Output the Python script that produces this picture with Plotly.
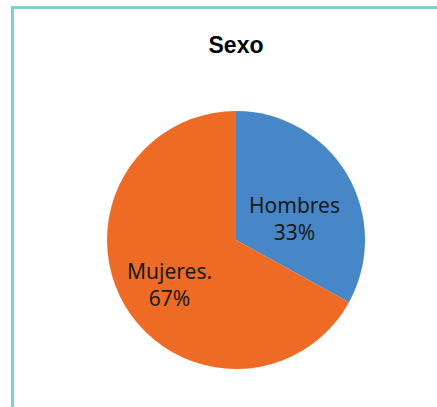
import plotly.graph_objects as go

labels = ["Hombres", "Mujeres."]
values = [33, 67]
colors = ["#4787c7", "#ee6b25"]

W, H = 437, 407
cx, cy, r = 236, 240, 129

total = sum(values)
label_text = [f"{lab}<br>{round(100 * v / total)}%" for lab, v in zip(labels, values)]
label_pos = [(294, 218), (169, 284)]  # pixel centres of the label blocks

fig = go.Figure(go.Pie(
    labels=labels,
    values=values,
    marker=dict(colors=colors, line=dict(width=0)),
    sort=False,
    direction="clockwise",
    rotation=0,
    textinfo="none",
    hoverinfo="skip",
    showlegend=False,
    domain=dict(x=[(cx - r) / W, (cx + r) / W], y=[(H - cy - r) / H, (H - cy + r) / H]),
))

annotations = [
    dict(text=t, x=px / W, y=1 - py / H, xref="paper", yref="paper", showarrow=False,
         xanchor="center", yanchor="middle", align="center",
         font=dict(family="Noto Sans", size=21, color="#1a1a1a"))
    for t, (px, py) in zip(label_text, label_pos)
]

fig.update_layout(
    width=W, height=H,
    margin=dict(l=0, r=0, t=0, b=0),
    paper_bgcolor="white",
    title=dict(text="<b>Sexo</b>", x=236 / W, xanchor="center", y=1 - 45 / H, yanchor="middle",
               font=dict(family="Liberation Sans", size=23, color="black")),
    annotations=annotations,
    shapes=[
        dict(type="line", xref="paper", yref="paper", x0=12.5 / W, x1=12.5 / W, y0=0, y1=1 - 7.5 / H,
             line=dict(color="#7fd0d0", width=3)),
        dict(type="line", xref="paper", yref="paper", x0=11 / W, x1=1, y0=1 - 7.5 / H, y1=1 - 7.5 / H,
             line=dict(color="#7fd0d0", width=3)),
    ],
)

fig.write_html("out.html", config={"displayModeBar": False},
               post_script="document.body.style.margin='0';document.body.style.overflow='hidden';")
